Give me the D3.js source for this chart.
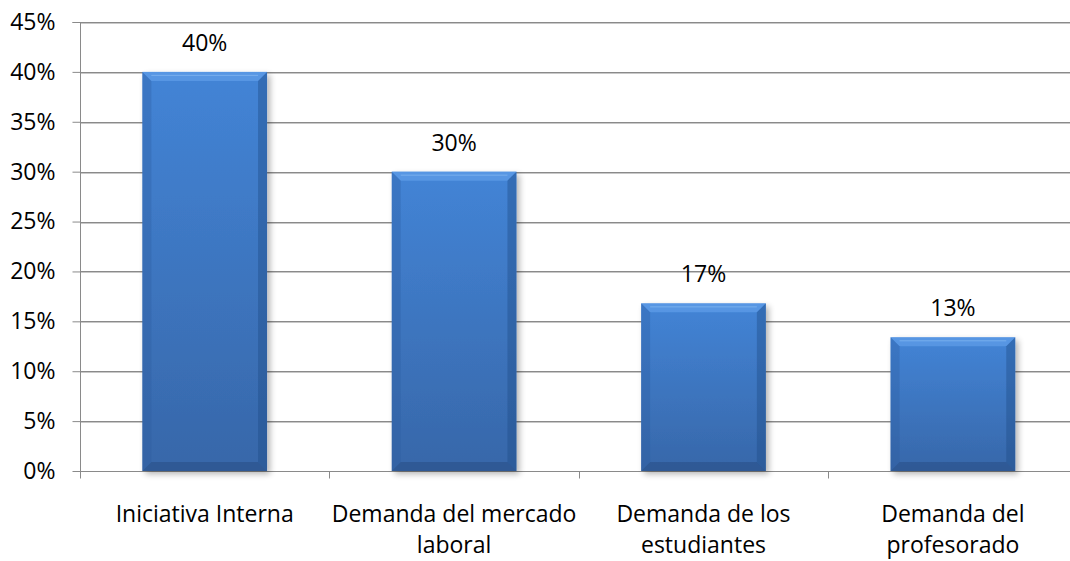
<!DOCTYPE html>
<html><head><meta charset="utf-8">
<script src="https://cdn.jsdelivr.net/npm/d3@7"></script>
<style>
html,body{margin:0;padding:0;background:#fff;}
svg{display:block;font-family:"Open Sans",sans-serif;}
</style></head>
<body>
<svg id="c" width="1070" height="561"></svg>
<script>
const categories = [["Iniciativa Interna"],["Demanda del mercado","laboral"],["Demanda de los","estudiantes"],["Demanda del","profesorado"]];
const values = [0.40, 0.30, 0.168, 0.134];
const valueLabels = ["40%","30%","17%","13%"];
const yTicks = [0,0.05,0.10,0.15,0.20,0.25,0.30,0.35,0.40,0.45];

const FS = 23;
const svg = d3.select("#c");
const pL = 80, pR = 1077.6, pT = 22, pB = 471;
const keys = categories.map((c,i)=>"c"+i);
const x = d3.scaleBand().domain(keys).range([pL,pR]).padding(0);
const y = d3.scaleLinear().domain([0,0.45]).range([pB,pT]);

const defs = svg.append("defs");
const g1 = defs.append("linearGradient").attr("id","bf").attr("x1",0).attr("y1",0).attr("x2",0).attr("y2",1);
g1.append("stop").attr("offset",0).attr("stop-color","#4384d6");
g1.append("stop").attr("offset",1).attr("stop-color","#3767a9");
const f = defs.append("filter").attr("id","sh").attr("x","-20%").attr("y","-20%").attr("width","140%").attr("height","140%");
f.append("feGaussianBlur").attr("in","SourceAlpha").attr("stdDeviation",3);
f.append("feOffset").attr("dx",3).attr("dy",3).attr("result","b");
f.append("feComponentTransfer").append("feFuncA").attr("type","linear").attr("slope",0.3);
const m = f.append("feMerge"); m.append("feMergeNode"); m.append("feMergeNode").attr("in","SourceGraphic");

// gridlines
svg.append("g").selectAll("line").data(yTicks.filter(d=>d>0)).join("line")
  .attr("x1",pL).attr("x2",1070).attr("y1",d=>Math.round(y(d))+0.5).attr("y2",d=>Math.round(y(d))+0.5)
  .attr("stroke","#8a8a8a").attr("stroke-width",1);
svg.append("g").selectAll("line").data(yTicks.filter(d=>d>0)).join("line")
  .attr("x1",pL).attr("x2",1070).attr("y1",d=>Math.round(y(d))+1.5).attr("y2",d=>Math.round(y(d))+1.5)
  .attr("stroke","#c8c8c8").attr("stroke-width",1);

// y axis
const ya = svg.append("g").attr("transform",`translate(${pL+0.5},0)`)
  .call(d3.axisLeft(y).tickValues(yTicks).tickSize(8).tickPadding(17).tickFormat(d3.format(".0%")));
ya.select(".domain").attr("stroke","#8a8a8a").attr("d",`M-8,${pT+0.5}H0V${pB+7}`);
ya.selectAll(".tick line").attr("stroke","#8a8a8a");
ya.selectAll(".tick text").attr("font-size",FS).attr("fill","#000").attr("font-family","'Open Sans',sans-serif");

// x axis
const xa = svg.append("g").attr("transform",`translate(0,${Math.round(pB)+0.5})`);
xa.append("line").attr("x1",pL).attr("x2",1070).attr("stroke","#8a8a8a");
xa.selectAll("line.t").data(keys).join("line").attr("class","t")
  .attr("x1",d=>Math.round(x(d))+0.5).attr("x2",d=>Math.round(x(d))+0.5).attr("y1",0).attr("y2",7).attr("stroke","#8a8a8a");

// bars
const bw = x.bandwidth()*0.5;
const bars = svg.append("g").selectAll("g").data(values).join("g")
  .attr("transform",(d,i)=>`translate(${x(keys[i])+x.bandwidth()/2-bw/2},${y(d)})`);
bars.append("rect").attr("width",bw).attr("height",d=>pB-y(d)).attr("fill","url(#bf)").attr("filter","url(#sh)");
const bv = 9;
bars.append("path").attr("d",d=>`M0,0H${bw}L${bw-bv},${bv}H${bv}Z`).attr("fill","#6aa6ee").attr("opacity",0.55);
bars.append("path").attr("d",d=>{const h=pB-y(d);return `M0,${h}H${bw}L${bw-bv},${h-bv}H${bv}Z`;}).attr("fill","#1f3f70").attr("opacity",0.35);
bars.append("path").attr("d",d=>{const h=pB-y(d);return `M0,0L${bv},${bv}V${h-bv}L0,${h}Z`;}).attr("fill","#2a5a9a").attr("opacity",0.3);
bars.append("path").attr("d",d=>{const h=pB-y(d);return `M${bw},0L${bw-bv},${bv}V${h-bv}L${bw},${h}Z`;}).attr("fill","#1f4a85").attr("opacity",0.4);
bars.append("line").attr("x1",bv).attr("x2",bw-bv).attr("y1",3.5).attr("y2",3.5).attr("stroke","#8cc0f5").attr("opacity",0.6);

// value labels
svg.append("g").selectAll("text").data(values).join("text")
  .attr("x",(d,i)=>x(keys[i])+x.bandwidth()/2).attr("y",d=>y(d)-21)
  .attr("text-anchor","middle").attr("font-size",FS).attr("fill","#000").text((d,i)=>valueLabels[i]);

// category labels
const cl = svg.append("g").selectAll("text").data(categories).join("text")
  .attr("x",(d,i)=>x(keys[i])+x.bandwidth()/2).attr("y",522)
  .attr("text-anchor","middle").attr("font-size",FS).attr("fill","#000");
cl.selectAll("tspan").data(d=>d).join("tspan")
  .attr("x",function(){return this.parentNode.getAttribute("x");})
  .attr("dy",(d,j)=>j===0?0:31).text(d=>d);
</script>
</body></html>
